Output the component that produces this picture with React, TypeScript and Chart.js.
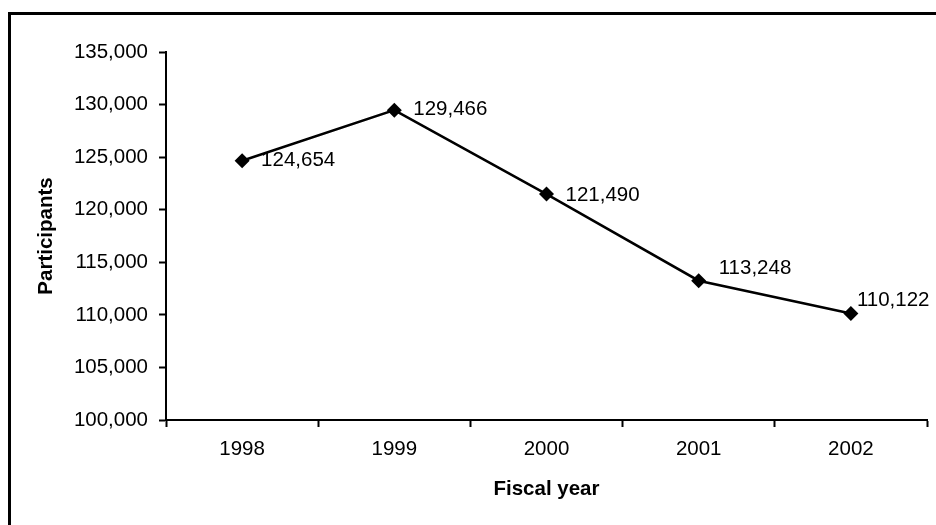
import React, { useEffect, useRef } from "react";
import { Chart, registerables } from "chart.js";

Chart.register(...registerables);

const years = ["1998", "1999", "2000", "2001", "2002"];
const participants = [124654, 129466, 121490, 113248, 110122];
const yMin = 100000;
const yMax = 135000;
const yStep = 5000;

const labelOffsets = [
  { dx: 19, dy: 0 },
  { dx: 19, dy: -1 },
  { dx: 19, dy: 1 },
  { dx: 20, dy: -12.5 },
  { dx: 6, dy: -13.5 },
];

const FONT = "'Liberation Sans', Arial, sans-serif";
const FS = 20.5;

const fmt = (v: number) => v.toLocaleString("en-US");

const decorPlugin = {
  id: "decor",
  afterDraw(chart: any) {
    const ctx = chart.ctx;
    const area = chart.chartArea;
    ctx.save();
    // outer frame (left and top visible)
    ctx.strokeStyle = "#000";
    ctx.lineWidth = 3;
    ctx.beginPath();
    ctx.moveTo(9.5, chart.height + 5);
    ctx.lineTo(9.5, 13.5);
    ctx.lineTo(chart.width + 5, 13.5);
    ctx.stroke();

    // data labels
    const meta = chart.getDatasetMeta(0);
    ctx.fillStyle = "#000";
    ctx.font = `${FS}px ${FONT}`;
    ctx.textAlign = "left";
    ctx.textBaseline = "middle";
    meta.data.forEach((pt: any, i: number) => {
      const o = labelOffsets[i];
      ctx.fillText(fmt(participants[i]), pt.x + o.dx, pt.y + o.dy);
    });

    // axis titles
    ctx.font = `bold ${FS}px ${FONT}`;
    ctx.textAlign = "center";
    ctx.fillText("Fiscal year", (area.left + area.right) / 2, 489);
    ctx.save();
    ctx.translate(46, (area.top + area.bottom) / 2);
    ctx.rotate(-Math.PI / 2);
    ctx.fillText("Participants", 0, 0);
    ctx.restore();
    ctx.restore();
  },
};

export default function App() {
  const ref = useRef<HTMLCanvasElement | null>(null);
  useEffect(() => {
    document.body.style.margin = "0";
    const canvas = ref.current!;
    const chart = new Chart(canvas, {
      type: "line",
      data: {
        labels: years,
        datasets: [
          {
            data: participants,
            borderColor: "#000",
            backgroundColor: "#000",
            borderWidth: 2.5,
            pointStyle: "rectRot",
            pointRadius: 7.5,
            pointHoverRadius: 7.5,
            pointBorderWidth: 0,
            tension: 0,
          },
        ],
      },
      options: {
        animation: false,
        responsive: false,
        devicePixelRatio: 1,
        layout: { padding: { left: 0, top: 52, right: 9, bottom: 0 } },
        plugins: {
          legend: { display: false },
          tooltip: { enabled: false },
          title: { display: false },
        },
        scales: {
          x: {
            offset: true,
            grid: {
              offset: true,
              drawOnChartArea: false,
              drawTicks: true,
              tickLength: 7,
              tickWidth: 2,
              color: "#000",
            },
            border: { color: "#000", width: 2 },
            ticks: {
              color: "#000",
              font: { family: FONT, size: FS },
              padding: 10,
              maxRotation: 0,
            },
            afterFit: (s: any) => {
              s.height = 105;
            },
          },
          y: {
            min: yMin,
            max: yMax,
            grid: {
              drawOnChartArea: false,
              drawTicks: true,
              tickLength: 7,
              tickWidth: 2,
              color: "#000",
            },
            border: { color: "#000", width: 2 },
            ticks: {
              stepSize: yStep,
              color: "#000",
              font: { family: FONT, size: FS },
              padding: 11,
              callback: (v: any) => fmt(Number(v)),
            },
            afterFit: (s: any) => {
              s.width = 166;
            },
          },
        },
      },
      plugins: [decorPlugin],
    });
    return () => chart.destroy();
  }, []);
  return (
    <canvas
      ref={ref}
      width={936}
      height={525}
      style={{ display: "block", width: 936, height: 525 }}
    />
  );
}
